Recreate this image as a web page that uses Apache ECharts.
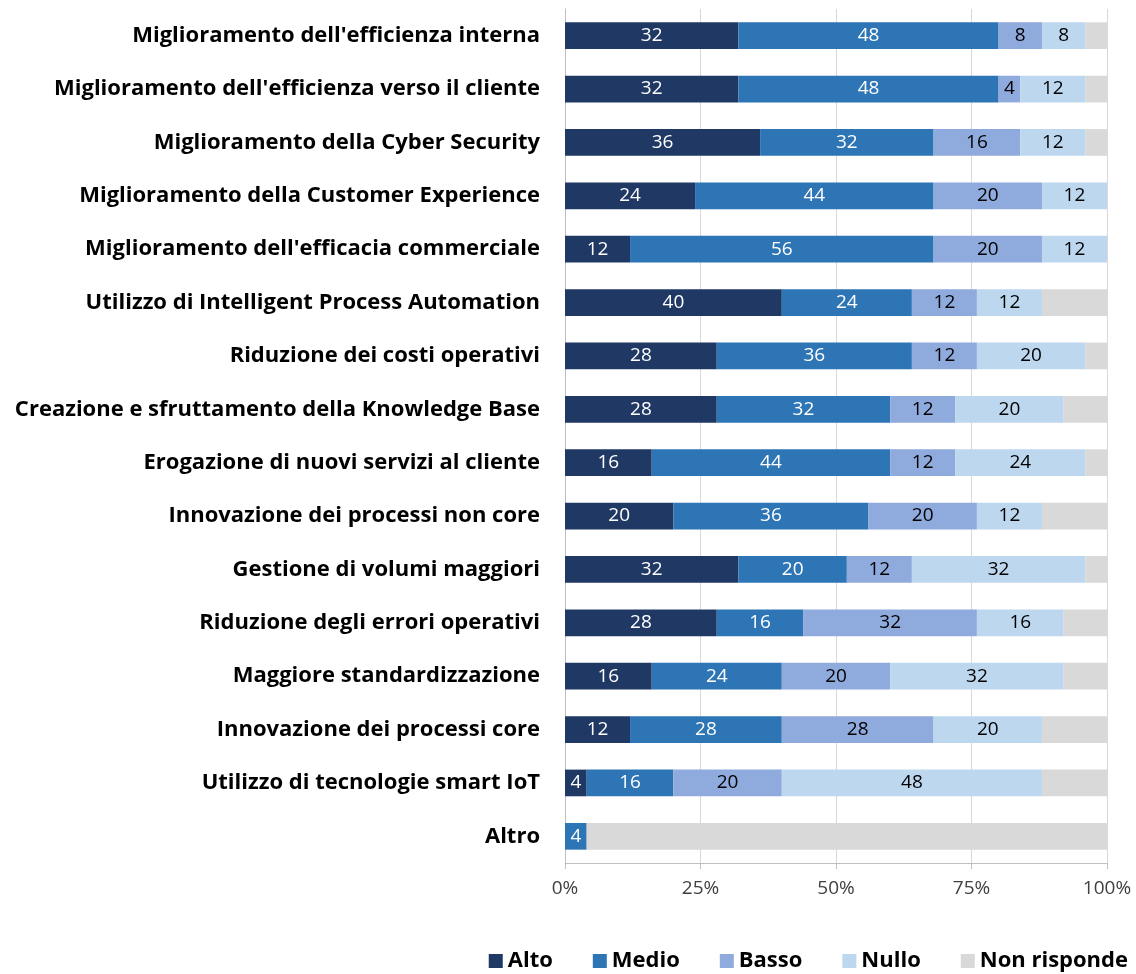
<!DOCTYPE html>
<html>
<head>
<meta charset="utf-8">
<script src="https://cdn.jsdelivr.net/npm/echarts@6/dist/echarts.min.js"></script>
<style>
  html, body { margin: 0; padding: 0; background: #fff; }
  #chart { width: 1136px; height: 974px; }
</style>
</head>
<body>
<div id="chart"></div>
<script>
// categorie, dall'alto verso il basso
var categories = [
  "Miglioramento dell'efficienza interna",
  "Miglioramento dell'efficienza verso il cliente",
  "Miglioramento della Cyber Security",
  "Miglioramento della Customer Experience",
  "Miglioramento dell'efficacia commerciale",
  "Utilizzo di Intelligent Process Automation",
  "Riduzione dei costi operativi",
  "Creazione e sfruttamento della Knowledge Base",
  "Erogazione di nuovi servizi al cliente",
  "Innovazione dei processi non core",
  "Gestione di volumi maggiori",
  "Riduzione degli errori operativi",
  "Maggiore standardizzazione",
  "Innovazione dei processi core",
  "Utilizzo di tecnologie smart IoT",
  "Altro"
];
var alto   = [32, 32, 36, 24, 12, 40, 28, 28, 16, 20, 32, 28, 16, 12, 4, 0];
var medio  = [48, 48, 32, 44, 56, 24, 36, 32, 44, 36, 20, 16, 24, 28, 16, 4];
var basso  = [8, 4, 16, 20, 20, 12, 12, 12, 12, 20, 12, 32, 20, 28, 20, 0];
var nullo  = [8, 12, 12, 12, 12, 12, 20, 20, 24, 12, 32, 16, 32, 20, 48, 0];
var nonRisponde = [4, 4, 4, 0, 0, 12, 4, 8, 4, 12, 4, 8, 8, 12, 12, 96];
var xTicks = [0, 25, 50, 75, 100];

var font = "'Open Sans', 'Noto Sans', sans-serif";

function serie (name, data, color, labelColor, showLabel) {
  return {
    name: name,
    type: 'bar',
    stack: 'tot',
    barWidth: '50%',
    data: data,
    itemStyle: { color: color },
    label: {
      show: showLabel,
      position: 'inside',
      color: labelColor,
      fontFamily: font,
      fontSize: 19,
      formatter: function (p) { return p.value > 0 ? p.value : ''; }
    }
  };
}

var myChart = echarts.init(document.getElementById('chart'));
var option = {
  animation: false,
  textStyle: { fontFamily: font },
  grid: {
    left: 565,
    right: 29,
    top: 9,
    bottom: 111,
    containLabel: false
  },
  legend: {
    bottom: -3,
    right: 3,
    itemWidth: 14,
    itemHeight: 14,
    itemGap: 40,
    icon: 'rect',
    textStyle: { fontSize: 22, fontWeight: 'bold', color: '#000', fontFamily: font },
    data: ['Alto', 'Medio', 'Basso', 'Nullo', 'Non risponde']
  },
  xAxis: {
    type: 'value',
    min: 0,
    max: 100,
    interval: 25,
    axisLine: { show: true, lineStyle: { color: '#bfbfbf' } },
    axisTick: { show: true, length: 6, lineStyle: { color: '#bfbfbf' } },
    splitLine: { show: true, lineStyle: { color: '#d9d9d9' } },
    axisLabel: {
      color: '#404040',
      fontSize: 19,
      margin: 16,
      formatter: function (v) { return xTicks.indexOf(v) >= 0 ? v + '%' : ''; }
    }
  },
  yAxis: {
    type: 'category',
    inverse: true,
    data: categories,
    axisLine: { show: true, lineStyle: { color: '#bfbfbf' } },
    axisTick: { show: false },
    axisLabel: {
      color: '#000',
      fontWeight: 'bold',
      fontSize: 22,
      margin: 25,
      interval: 0
    }
  },
  series: [
    serie('Alto', alto, '#203864', '#fff', true),
    serie('Medio', medio, '#2E75B6', '#fff', true),
    serie('Basso', basso, '#8FAADC', '#000', true),
    serie('Nullo', nullo, '#BDD7EE', '#000', true),
    serie('Non risponde', nonRisponde, '#D9D9D9', '#000', false)
  ]
};
myChart.setOption(option);
</script>
</body>
</html>
